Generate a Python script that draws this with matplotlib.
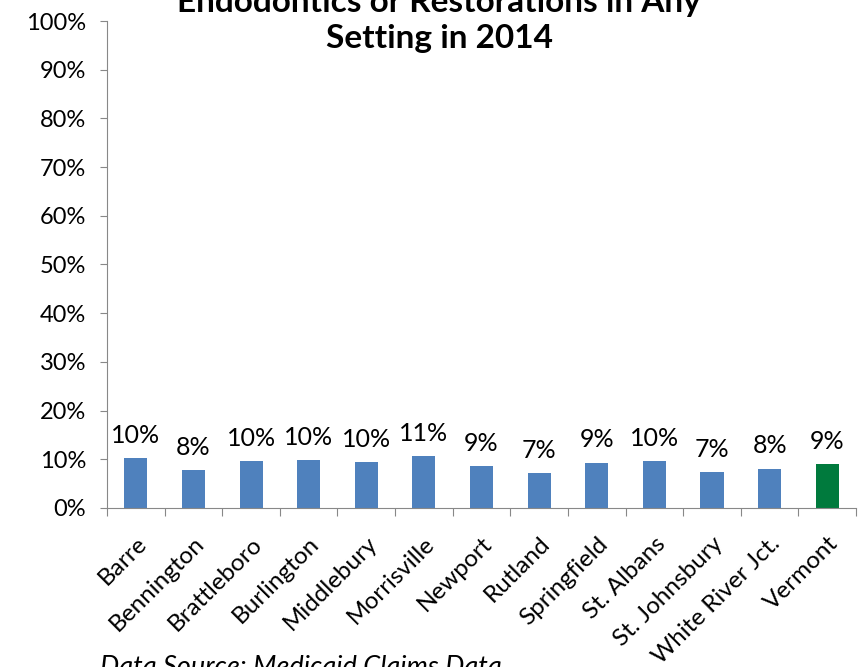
import numpy as np
import matplotlib.pyplot as plt
from matplotlib.ticker import FuncFormatter

# towns and share of children with endodontics / restorations (percent)
towns = ['Barre', 'Bennington', 'Brattleboro', 'Burlington', 'Middlebury',
         'Morrisville', 'Newport', 'Rutland', 'Springfield', 'St. Albans',
         'St. Johnsbury', 'White River Jct.', 'Vermont']
values = [10.3, 7.7, 9.7, 9.8, 9.5, 10.6, 8.6, 7.1, 9.3, 9.6, 7.3, 8.1, 9.0]

blue = '#4F81BD'
green = '#007A3D'
colors = [blue] * (len(towns) - 1) + [green]

plt.rcParams['font.family'] = ['Lato', 'DejaVu Sans']

fig = plt.figure(figsize=(8.58, 6.67), dpi=100)
ax = fig.add_axes([0.1247, 0.2384, 0.873, 0.7301])

x = np.arange(len(towns))
bars = ax.bar(x, values, width=0.4, color=colors)

for xi, v in zip(x, values):
    ax.text(xi, v + 2.3, f"{v:.0f}%", ha='center', va='bottom', fontsize=18)

ax.set_xlim(-0.5, len(towns) - 0.5)
ax.set_ylim(0, 100)
ax.set_yticks(np.arange(0, 101, 10))
ax.yaxis.set_major_formatter(FuncFormatter(lambda v, p: f"{v:.0f}%"))
ax.tick_params(axis='y', labelsize=17, length=5, pad=10, color='#888888')

# category boundary ticks on x axis, labels at centres
ax.set_xticks(np.arange(-0.5, len(towns) + 0.5, 1))
ax.set_xticklabels([])
ax.set_xticks(x, minor=True)
ax.set_xticklabels(towns, minor=True, rotation=45, ha='right',
                   rotation_mode='anchor', fontsize=17.5)
ax.tick_params(axis='x', which='major', length=6, color='#888888')
ax.tick_params(axis='x', which='minor', length=0, pad=18)

for s in ['top', 'right']:
    ax.spines[s].set_visible(False)
for s in ['left', 'bottom']:
    ax.spines[s].set_color('#888888')

# title, first line runs off the top as in the source
fig.text(0.512, 0.997, "Endodontics or Restorations in Any",
         ha='center', va='center', fontsize=24, fontweight='bold')
fig.text(0.512, 0.943, "Setting in 2014",
         ha='center', va='center', fontsize=24, fontweight='bold')

fig.text(0.117, 0.018, "Data Source: Medicaid Claims Data", ha='left',
         va='top', fontsize=19.5, style='italic')

fig.savefig('out.png', dpi=100)
